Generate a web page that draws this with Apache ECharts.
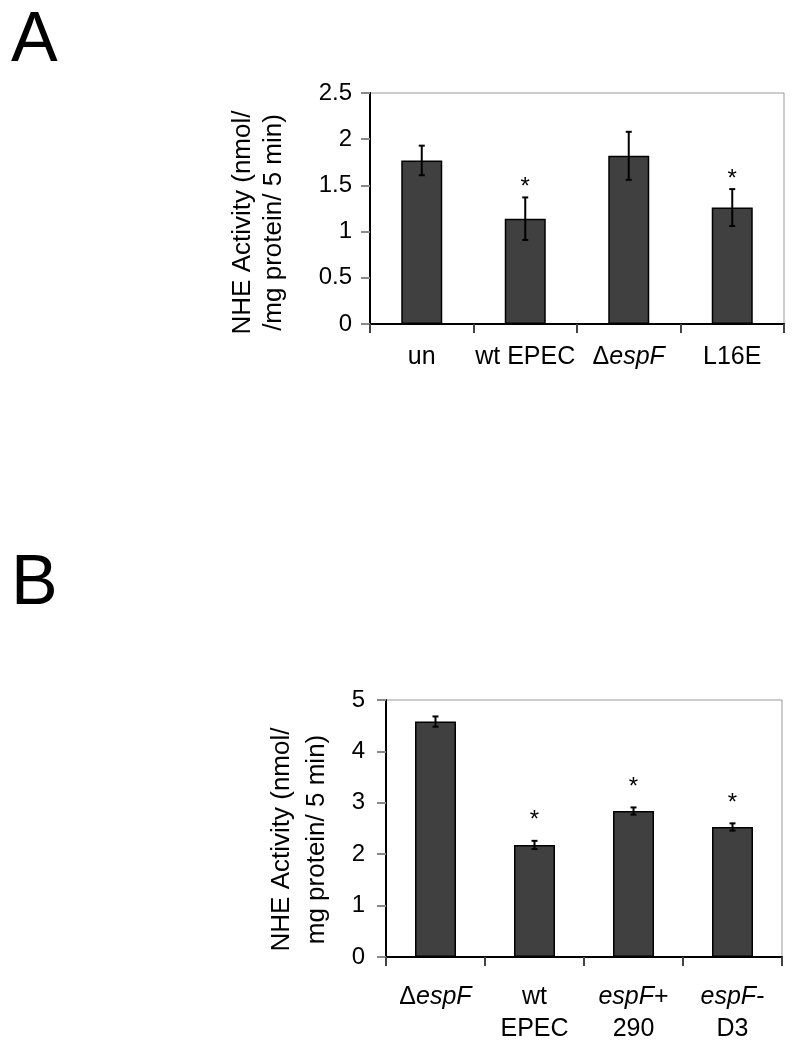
<!DOCTYPE html>
<html>
<head>
<meta charset="utf-8">
<script src="https://cdn.jsdelivr.net/npm/echarts@6/dist/echarts.min.js"></script>
<style>
  html, body { margin: 0; padding: 0; background: #fff; }
  #chart { width: 800px; height: 1053px; }
</style>
</head>
<body>
<div id="chart"></div>
<script>
// panel A
const catsA = ['un', 'wt EPEC', 'ΔespF', 'L16E'];
const valA = [1.77, 1.14, 1.82, 1.26];
const errA = [0.16, 0.23, 0.26, 0.20];
const sigA = [0, 1, 0, 1];
// panel B
const catsB = ['ΔespF', 'wt\nEPEC', 'espF+\n290', 'espF-\nD3'];
const valB = [4.58, 2.18, 2.84, 2.53];
const errB = [0.10, 0.08, 0.07, 0.07];
const sigB = [0, 1, 1, 1];
// y ticks
const maxA = 2.5, stepA = 0.5;
const maxB = 5, stepB = 1;

const FONT = '"Liberation Sans", Arial, sans-serif';

let chart = echarts.init(document.getElementById('chart'));

// espF is written in italics
function catLabel(v) {
  return v.split('\n').map(line =>
    line.split('espF').map(p => p ? '{n|' + p + '}' : '').join('{i|espF}')
  ).join('\n')
}

function errData(vals, errs, sig) {
  return vals.map((v, i) => [i, v + errs[i], v - errs[i], sig[i]])
}

function errRender(starUp) {
  return function (params, api) {
    let hi = api.coord([api.value(0), api.value(1)])
    let lo = api.coord([api.value(0), api.value(2)])
    let cap = 3
    let st = {stroke: '#000', lineWidth: 2}
    let kids = [
      {type: 'line', shape: {x1: hi[0], y1: hi[1], x2: lo[0], y2: lo[1]}, style: st},
      {type: 'line', shape: {x1: hi[0] - cap, y1: hi[1], x2: hi[0] + cap, y2: hi[1]}, style: st},
      {type: 'line', shape: {x1: lo[0] - cap, y1: lo[1], x2: lo[0] + cap, y2: lo[1]}, style: st}
    ]
    if (api.value(3)) {
      kids.push({type: 'text', x: hi[0], y: hi[1] - starUp,
        style: {text: '*', fontSize: 24, fontFamily: FONT, fill: '#000', align: 'center', verticalAlign: 'middle'}})
    }
    return {type: 'group', children: kids}
  }
}

function xAx(idx, cats, margin, lh) {
  return {
    type: 'category', gridIndex: idx, data: cats,
    axisLine: {lineStyle: {color: '#000', width: 2}},
    axisTick: {show: true, length: 9, lineStyle: {color: '#444', width: 2}},
    axisLabel: {
      interval: 0,
      margin: margin, color: '#000', fontSize: 25, fontFamily: FONT, lineHeight: lh,
      formatter: catLabel,
      rich: {
        i: {fontStyle: 'italic', fontSize: 25, fontFamily: FONT, lineHeight: lh, color: '#000'},
        n: {fontSize: 25, fontFamily: FONT, lineHeight: lh, color: '#000'}
      }
    }
  }
}

function yAx(idx, max, step, name, gap, lh, margin, shift) {
  return {
    type: 'value', gridIndex: idx, min: 0, max: max, interval: step,
    name: name, nameLocation: 'middle', nameGap: gap, nameRotate: 90,
    nameTextStyle: {fontSize: 26, fontFamily: FONT, color: '#000', lineHeight: lh, padding: [0, shift, 0, 0]},
    axisLine: {show: true, lineStyle: {color: '#000', width: 2}},
    axisTick: {show: true, length: 9, lineStyle: {color: '#888', width: 2}},
    axisLabel: {margin: margin, fontSize: 24, fontFamily: FONT, color: '#000'},
    splitLine: {show: false}
  }
}

chart.setOption({
  backgroundColor: '#fff',
  animation: false,
  title: [
    {text: 'A', left: 6, top: 2, textStyle: {fontSize: 70, fontWeight: 'normal', fontFamily: FONT, color: '#000'}},
    {text: 'B', left: 6, top: 545, textStyle: {fontSize: 70, fontWeight: 'normal', fontFamily: FONT, color: '#000'}}
  ],
  grid: [
    {left: 370, right: 16, top: 93, bottom: 729, show: true, borderColor: '#999', borderWidth: 1},
    {left: 386, right: 18, top: 700, bottom: 96, show: true, borderColor: '#999', borderWidth: 1}
  ],
  xAxis: [xAx(0, catsA, 18, 30), xAx(1, catsB, 24, 32)],
  yAxis: [
    yAx(0, maxA, stepA, 'NHE Activity (nmol/\n/mg protein/ 5 min)', 81, 31, 18, 28),
    yAx(1, maxB, stepB, 'NHE Activity (nmol/\nmg protein/ 5 min)', 52, 35, 21, 22)
  ],
  series: [
    {
      type: 'bar', xAxisIndex: 0, yAxisIndex: 0, data: valA, barWidth: 41,
      itemStyle: {color: '#404040', borderColor: '#000', borderWidth: 1.5}
    },
    {
      type: 'custom', xAxisIndex: 0, yAxisIndex: 0, data: errData(valA, errA, sigA),
      encode: {x: 0, y: [1, 2]}, renderItem: errRender(10), z: 5
    },
    {
      type: 'bar', xAxisIndex: 1, yAxisIndex: 1, data: valB, barWidth: 41,
      itemStyle: {color: '#404040', borderColor: '#000', borderWidth: 1.5}
    },
    {
      type: 'custom', xAxisIndex: 1, yAxisIndex: 1, data: errData(valB, errB, sigB),
      encode: {x: 0, y: [1, 2]}, renderItem: errRender(20), z: 5
    }
  ]
});
</script>
</body>
</html>
